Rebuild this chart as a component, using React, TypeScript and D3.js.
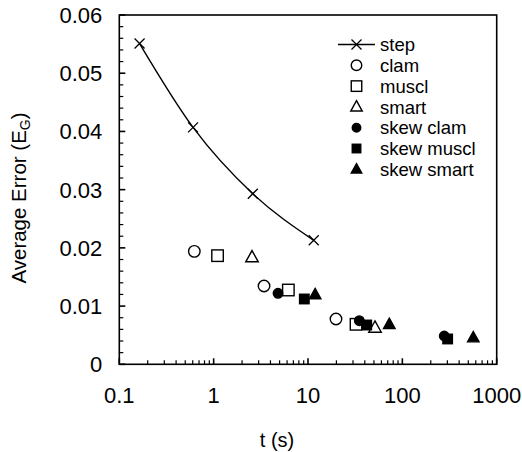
import React from "react";
import * as d3 from "d3";

const stepT = [0.164, 0.605, 2.6, 11.5];
const stepE = [0.0551, 0.0407, 0.0293, 0.0213];
const clamT = [0.624, 3.42, 19.8];
const clamE = [0.0194, 0.01345, 0.00778];
const musclT = [1.1, 6.19, 32.3];
const musclE = [0.01866, 0.01276, 0.00687];
const smartT = [2.55, 51.3];
const smartE = [0.01838, 0.00629];
const skewClamT = [4.81, 35, 278];
const skewClamE = [0.0122, 0.00749, 0.00486];
const skewMusclT = [9.14, 41.9, 302];
const skewMusclE = [0.01122, 0.00675, 0.00435];
const skewSmartT = [11.9, 72.7, 565];
const skewSmartE = [0.01196, 0.00687, 0.00457];

const yTicks = [0, 0.01, 0.02, 0.03, 0.04, 0.05, 0.06];
const xTicks = [0.1, 1, 10, 100, 1000];
const legendLabels = ["step", "clam", "muscl", "smart", "skew clam", "skew muscl", "skew smart"];

const W = 522, H = 452;
const L = 119.3, R = 496.7, T = 15, B = 364.3;
const FONT = "'Liberation Sans', Arial, Helvetica, sans-serif";

type Shape = "x" | "circle" | "square" | "triangle";

function Marker({ x, y, shape, filled, size }: { x: number; y: number; shape: Shape; filled: boolean; size: number }) {
  const fill = filled ? "#000" : "#fff";
  const sw = 1.4;
  if (shape === "x") {
    const s = size / 2;
    return <path d={`M${x - s},${y - s}L${x + s},${y + s}M${x - s},${y + s}L${x + s},${y - s}`} stroke="#000" strokeWidth={1.3} />;
  }
  if (shape === "circle") {
    return <circle cx={x} cy={y} r={size / 2} fill={fill} stroke="#000" strokeWidth={sw} />;
  }
  if (shape === "square") {
    const s = size / 2;
    return <rect x={x - s} y={y - s} width={size} height={size} fill={fill} stroke="#000" strokeWidth={sw} />;
  }
  const h = size * 0.9;
  const s = size / 2;
  return <path d={`M${x},${y - h * 0.6}L${x + s},${y + h * 0.4}L${x - s},${y + h * 0.4}Z`} fill={fill} stroke="#000" strokeWidth={sw} />;
}

export default function App() {
  const x = d3.scaleLog().domain([0.1, 1000]).range([L, R]);
  const y = d3.scaleLinear().domain([0, 0.06]).range([B, T]);

  const minorX: number[] = [];
  for (let e = -1; e < 3; e++) for (let m = 2; m <= 9; m++) minorX.push(m * Math.pow(10, e));
  const minorY: number[] = [];
  for (let i = 0; i <= 30; i++) if (i % 5 !== 0) minorY.push(i * 0.002);

  const line = d3
    .line<number>()
    .x((_, i) => x(stepT[i]))
    .y((d) => y(d))
    .curve(d3.curveMonotoneX);

  const series: { t: number[]; e: number[]; shape: Shape; filled: boolean; size: number }[] = [
    { t: clamT, e: clamE, shape: "circle", filled: false, size: 11.5 },
    { t: musclT, e: musclE, shape: "square", filled: false, size: 11.5 },
    { t: smartT, e: smartE, shape: "triangle", filled: false, size: 12.5 },
    { t: skewClamT, e: skewClamE, shape: "circle", filled: true, size: 9.5 },
    { t: skewMusclT, e: skewMusclE, shape: "square", filled: true, size: 9.5 },
    { t: skewSmartT, e: skewSmartE, shape: "triangle", filled: true, size: 11.5 },
  ];
  const legendShapes: { shape: Shape; filled: boolean; size: number }[] = [
    { shape: "x", filled: false, size: 10 },
    ...series.map((s) => ({ shape: s.shape, filled: s.filled, size: s.size - 1 })),
  ];

  return (
    <svg width={W} height={H} style={{ position: "absolute", left: 0, top: 0, background: "#fff" }} fontFamily={FONT}>
      <rect x={0} y={0} width={W} height={H} fill="#fff" />
      {/* frame */}
      <rect x={L} y={T} width={R - L} height={B - T} fill="none" stroke="#000" strokeWidth={1.6} />
      {/* y ticks */}
      {yTicks.map((v) => (
        <g key={"yt" + v}>
          <line x1={L} x2={L + 6} y1={y(v)} y2={y(v)} stroke="#000" strokeWidth={1.6} />
          <text x={L - 17} y={y(v)} dy="0.36em" textAnchor="end" fontSize={22}>
            {v === 0 ? "0" : d3.format(".2f")(v)}
          </text>
        </g>
      ))}
      {minorY.map((v) => (
        <line key={"ym" + v} x1={L} x2={L + 4} y1={y(v)} y2={y(v)} stroke="#000" strokeWidth={1.2} />
      ))}
      {/* x ticks */}
      {xTicks.map((v) => (
        <g key={"xt" + v}>
          <line x1={x(v)} x2={x(v)} y1={B} y2={B - 6} stroke="#000" strokeWidth={1.6} />
          <text x={x(v)} y={B + 39} textAnchor="middle" fontSize={22}>
            {String(v)}
          </text>
        </g>
      ))}
      {minorX.map((v) => (
        <line key={"xm" + v} x1={x(v)} x2={x(v)} y1={B} y2={B - 4} stroke="#000" strokeWidth={1.2} />
      ))}
      {/* axis titles */}
      <text x={277} y={447} textAnchor="middle" fontSize={20}>t (s)</text>
      <text transform={`translate(26,198) rotate(-90)`} textAnchor="middle" fontSize={20.5}>
        Average Error (E<tspan fontSize={14} dy="4">G</tspan>
        <tspan dy="-4">)</tspan>
      </text>
      {/* step line */}
      <path d={line(stepE) || ""} fill="none" stroke="#000" strokeWidth={1.4} />
      {stepT.map((t, i) => (
        <Marker key={"s" + i} x={x(t)} y={y(stepE[i])} shape="x" filled={false} size={10} />
      ))}
      {series.map((s, si) =>
        s.t.map((t, i) => <Marker key={si + "-" + i} x={x(t)} y={y(s.e[i])} shape={s.shape} filled={s.filled} size={s.size} />)
      )}
      {/* legend */}
      {legendLabels.map((lab, i) => {
        const ly = 44.5 + i * 20.8;
        return (
          <g key={"lg" + i}>
            {i === 0 && <line x1={338} x2={375} y1={ly} y2={ly} stroke="#000" strokeWidth={1.4} />}
            <Marker x={356.5} y={ly} shape={legendShapes[i].shape} filled={legendShapes[i].filled} size={legendShapes[i].size} />
            <text x={380} y={ly} dy="0.36em" fontSize={18.5}>
              {lab}
            </text>
          </g>
        );
      })}
    </svg>
  );
}
